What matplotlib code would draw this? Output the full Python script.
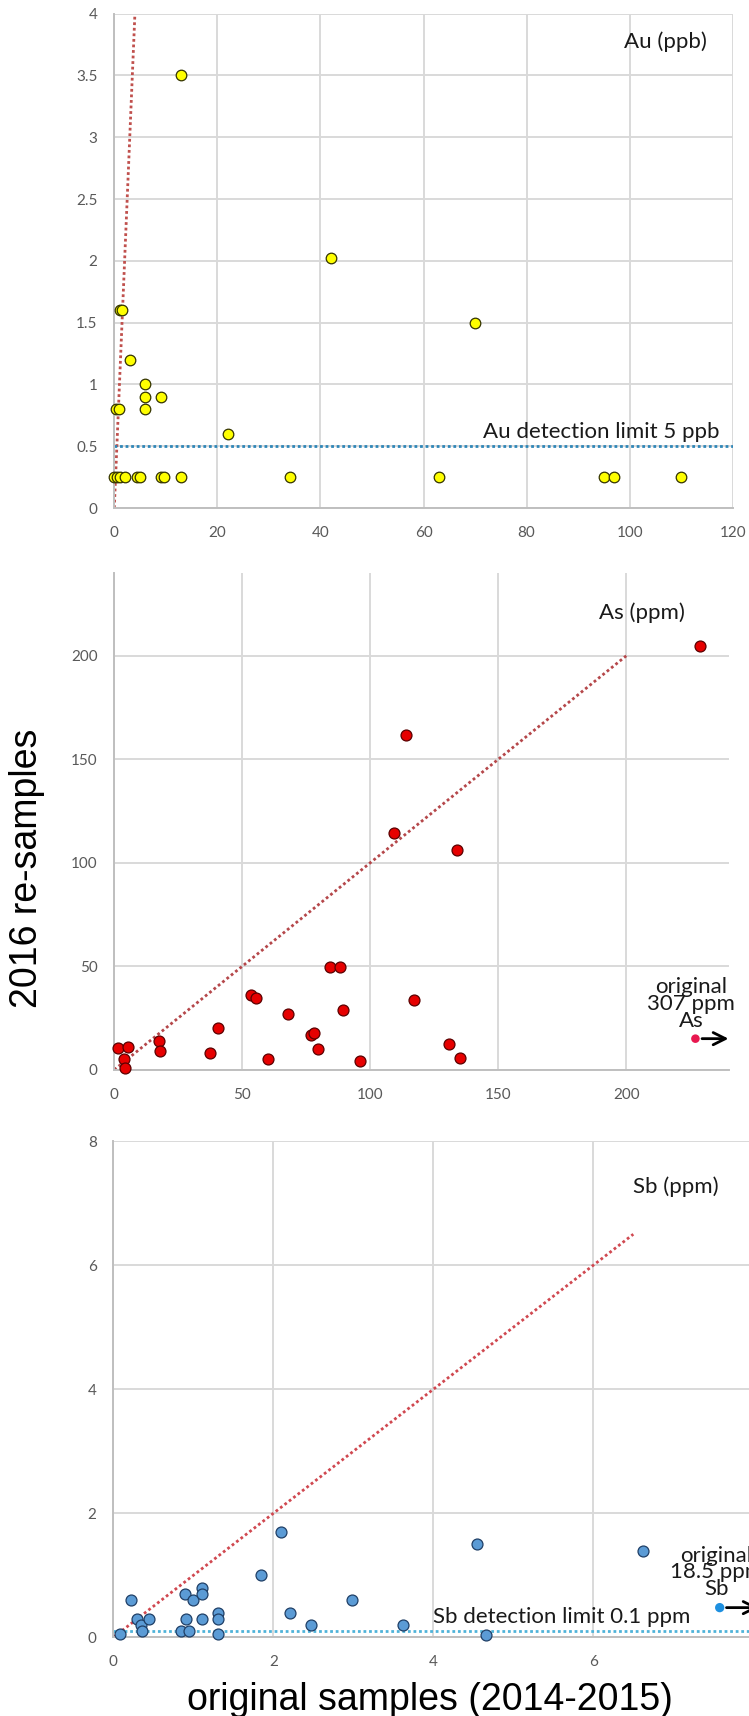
import matplotlib
matplotlib.use("Agg")
import matplotlib.pyplot as plt

# ---------------- data ----------------
au_x = [13, 42, 1.2, 1.5, 3, 6, 6, 9, 6, 0.3, 1.0, 22, 70,
        0, 0.6, 1.2, 2.1, 4.4, 5.0, 9.0, 9.6, 13, 34, 63, 95, 97, 110]
au_y = [3.5, 2.02, 1.6, 1.6, 1.2, 1.0, 0.9, 0.9, 0.8, 0.8, 0.8, 0.6, 1.5,
        0.25, 0.25, 0.25, 0.25, 0.25, 0.25, 0.25, 0.25, 0.25, 0.25, 0.25, 0.25, 0.25, 0.25]
au_limit = 0.5

as_x = [1.5, 5.2, 3.8, 4.0, 17.6, 17.9, 37.4, 40.7, 53.5, 55.2, 60.2, 67.7, 77, 77.9,
        79.6, 84.4, 88.3, 89.3, 96, 113.9, 109.4, 133.9, 116.9, 130.9, 134.9, 228.9]
as_y = [10.6, 11.1, 5.0, 0.7, 14, 9, 7.9, 20.3, 36.2, 34.5, 5.3, 26.8, 16.8, 17.7,
        9.8, 49.8, 49.5, 29, 4, 161.5, 114.5, 106, 33.5, 12.3, 5.7, 204.8]
as_outlier = (227, 15)          # original 307 ppm

sb_x = [0.22, 0.3, 0.34, 0.36, 0.45, 0.08, 0.89, 1.0, 1.11, 1.11, 0.91, 1.11, 0.85, 0.94,
        1.31, 1.31, 1.31, 1.84, 2.1, 2.21, 2.47, 2.98, 3.62, 4.54, 4.66, 6.62]
sb_y = [0.6, 0.3, 0.2, 0.1, 0.3, 0.05, 0.7, 0.6, 0.8, 0.7, 0.3, 0.3, 0.1, 0.1,
        0.4, 0.3, 0.05, 1.0, 1.7, 0.4, 0.2, 0.6, 0.2, 1.5, 0.04, 1.4]
sb_outlier = (7.58, 0.48)       # original 18.5 ppm
sb_limit = 0.1

au_xticks = [0, 20, 40, 60, 80, 100, 120]
au_yticks = [0, 0.5, 1, 1.5, 2, 2.5, 3, 3.5, 4]
au_yticklabels = ["0", "0.5", "1", "1.5", "2", "2.5", "3", "3.5", "4"]
as_xticks = [0, 50, 100, 150, 200]
as_yticks = [0, 50, 100, 150, 200]
sb_xticks = [0, 2, 4, 6, 8]
sb_yticks = [0, 2, 4, 6, 8]

# ---------------- figure ----------------
W, H = 749, 1716
fig = plt.figure(figsize=(W / 100, H / 100), dpi=100)

def axes_px(left, right, top, bottom):
    return fig.add_axes([left / W, 1 - bottom / H, (right - left) / W, (bottom - top) / H])

ax1 = axes_px(114.3, 732.7, 13.6, 508.0)
ax2 = axes_px(114.3, 728.7, 573.0, 1069.7)
ax3 = axes_px(113.3, 753.3, 1141.2, 1637.4)

GRID = "#D9D9D9"
SPINE = "#BFBFBF"
TICKC = "#595959"
TXT = "#1a1a1a"
tfont = "Lato"
AFS = 16

def style(ax):
    ax.set_facecolor("white")
    ax.grid(True, color=GRID, lw=1.4, zorder=0)
    ax.set_axisbelow(True)
    for s in ["top", "right"]:
        ax.spines[s].set_visible(False)
    for s in ["left", "bottom"]:
        ax.spines[s].set_color(SPINE)
        ax.spines[s].set_linewidth(1.4)
    ax.tick_params(axis="both", length=0, colors=TICKC, labelsize=11)
    ax.tick_params(axis="x", pad=13)
    ax.tick_params(axis="y", pad=12)
    for lab in ax.get_xticklabels() + ax.get_yticklabels():
        lab.set_fontfamily(tfont)

# ----- Au -----
ax1.set_xlim(0, 120)
ax1.set_ylim(0, 4)
ax1.set_xticks(au_xticks)
ax1.set_yticks(au_yticks)
ax1.set_yticklabels(au_yticklabels)
style(ax1)
ax1.plot([0, 4], [0, 4], ls=(0, (1, 1)), color="#C0504D", lw=2, zorder=2)
ax1.axhline(au_limit, ls=(0, (1, 1)), color="#2E86B8", lw=2, zorder=2)
ax1.scatter(au_x, au_y, s=58, facecolor="#FFFF00", edgecolor="#333300", lw=0.9,
            zorder=3, clip_on=False)
ax1.text(117.5, 0.57, "Au detection limit 5 ppb", ha="right", va="baseline",
         fontsize=AFS, fontfamily=tfont, color=TXT)
ax1.text(98.9, 3.72, "Au (ppb)", ha="left", va="baseline",
         fontsize=AFS, fontfamily=tfont, color=TXT)

# ----- As -----
ax2.set_xlim(0, 240)
ax2.set_ylim(0, 240)
ax2.set_xticks(as_xticks)
ax2.set_yticks(as_yticks)
style(ax2)
ax2.plot([0, 200], [0, 200], ls=(0, (1, 1)), color="#B5474A", lw=2, zorder=2)
ax2.scatter(as_x, as_y, s=62, facecolor="#E60000", edgecolor="#5A0000", lw=0.9,
            zorder=3, clip_on=False)
ax2.scatter([as_outlier[0]], [as_outlier[1]], s=38, facecolor="#E8174F",
            edgecolor="none", zorder=4, clip_on=False)
ax2.annotate("", xy=(241, as_outlier[1]), xytext=(as_outlier[0] + 1.5, as_outlier[1]),
             arrowprops=dict(arrowstyle="->", color="black", lw=2, mutation_scale=22),
             annotation_clip=False, zorder=4)
ax2.text(225.4, 20.6, "original\n307 ppm\nAs", ha="center", va="baseline",
         fontsize=AFS, fontfamily=tfont, color=TXT, linespacing=0.8,
         multialignment="center")
ax2.text(189.5, 217.7, "As (ppm)", ha="left", va="baseline",
         fontsize=AFS, fontfamily=tfont, color=TXT)

# ----- Sb -----
ax3.set_xlim(0, 8)
ax3.set_ylim(0, 8)
ax3.set_xticks(sb_xticks)
ax3.set_yticks(sb_yticks)
style(ax3)
ax3.plot([0, 6.5], [0, 6.5], ls=(0, (1, 1)), color="#D04850", lw=2, zorder=2)
ax3.axhline(sb_limit, ls=(0, (1, 1)), color="#4FB3D9", lw=2, zorder=2)
ax3.scatter(sb_x, sb_y, s=62, facecolor="#5B9BD5", edgecolor="#1F3F66", lw=0.9,
            zorder=3, clip_on=False)
ax3.scatter([sb_outlier[0]], [sb_outlier[1]], s=45, facecolor="#1E90E0",
            edgecolor="none", zorder=4, clip_on=False)
ax3.annotate("", xy=(8.1, sb_outlier[1]), xytext=(sb_outlier[0] + 0.05, sb_outlier[1]),
             arrowprops=dict(arrowstyle="->", color="black", lw=2, mutation_scale=22),
             annotation_clip=False, zorder=4)
ax3.text(7.54, 0.68, "original\n18.5 ppm\nSb", ha="center", va="baseline",
         fontsize=AFS, fontfamily=tfont, color=TXT, linespacing=0.8,
         multialignment="center")
ax3.text(3.99, 0.23, "Sb detection limit 0.1 ppm", ha="left", va="baseline",
         fontsize=AFS, fontfamily=tfont, color=TXT)
ax3.text(6.5, 7.17, "Sb (ppm)", ha="left", va="baseline",
         fontsize=AFS, fontfamily=tfont, color=TXT)

# ----- shared axis labels -----
fig.text(27 / W, 1 - 868 / H, "2016 re-samples", rotation=90, ha="center", va="center",
         fontsize=27, fontfamily="Liberation Sans", color="black")
fig.text(430 / W, 1 - 1710 / H, "original samples (2014-2015)", ha="center", va="baseline",
         fontsize=27, fontfamily="Liberation Sans", color="black")

fig.savefig("out.png", dpi=100, facecolor="white")
